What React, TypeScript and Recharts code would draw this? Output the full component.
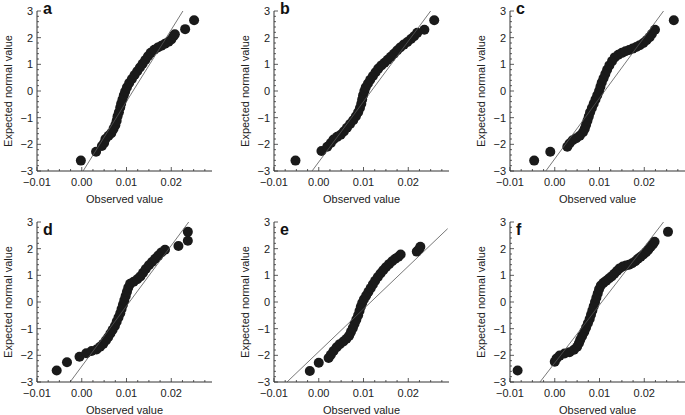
import React from 'react';
import { ScatterChart, Scatter, XAxis, YAxis } from 'recharts';

type Pt = { x: number; y: number };
const pts = (rows: number[][]): Pt[] => rows.map(([x, y]) => ({ x, y }));

const pointsA = pts([
  [-0.0002, -2.61], [0.0032, -2.28], [0.0045, -2.06], [0.005, -1.95], [0.0053, -1.8], [0.006, -1.68],
  [0.0066, -1.58], [0.0071, -1.42], [0.0075, -1.28], [0.0078, -1.12], [0.008, -0.95], [0.0083, -0.8],
  [0.0086, -0.62], [0.0088, -0.48], [0.0091, -0.32], [0.0094, -0.16], [0.0097, -0.02], [0.0101, 0.14],
  [0.0106, 0.3], [0.0112, 0.45], [0.0118, 0.6], [0.0124, 0.74], [0.013, 0.88], [0.0136, 1.02],
  [0.0142, 1.16], [0.0148, 1.3], [0.0154, 1.43], [0.0162, 1.55], [0.017, 1.63], [0.0178, 1.7],
  [0.0186, 1.77], [0.0194, 1.85], [0.02, 1.93], [0.0205, 2.05], [0.0208, 2.13], [0.0231, 2.32],
  [0.0251, 2.65],
]);
const pointsB = pts([
  [-0.0052, -2.61], [0.0006, -2.25], [0.0019, -2.09], [0.0027, -1.95], [0.0033, -1.82], [0.0041, -1.72],
  [0.0049, -1.64], [0.0056, -1.52], [0.0063, -1.38], [0.007, -1.24], [0.0077, -1.1], [0.0083, -0.95],
  [0.0088, -0.8], [0.0092, -0.64], [0.0095, -0.48], [0.0097, -0.32], [0.0099, -0.16], [0.0102, 0.0],
  [0.0105, 0.14], [0.011, 0.28], [0.0115, 0.42], [0.0121, 0.56], [0.0127, 0.7], [0.0133, 0.84],
  [0.014, 0.96], [0.0147, 1.06], [0.0154, 1.17], [0.0161, 1.28], [0.0168, 1.4], [0.0175, 1.52],
  [0.0182, 1.63], [0.019, 1.74], [0.0198, 1.84], [0.0206, 1.95], [0.0213, 2.05], [0.022, 2.18],
  [0.0236, 2.3], [0.0258, 2.65],
]);
const pointsC = pts([
  [-0.0046, -2.61], [-0.001, -2.28], [0.0028, -2.09], [0.0033, -1.97], [0.004, -1.85], [0.0048, -1.77],
  [0.0056, -1.68], [0.0063, -1.55], [0.0067, -1.42], [0.007, -1.27], [0.0073, -1.12], [0.0076, -0.96],
  [0.0079, -0.8], [0.0083, -0.64], [0.0087, -0.48], [0.0091, -0.32], [0.0095, -0.16], [0.0099, 0.0],
  [0.0102, 0.16], [0.0105, 0.32], [0.0109, 0.48], [0.0113, 0.64], [0.0117, 0.8], [0.0122, 0.96],
  [0.0128, 1.12], [0.0134, 1.26], [0.0142, 1.36], [0.015, 1.43], [0.0158, 1.49], [0.0166, 1.54],
  [0.0174, 1.59], [0.0182, 1.65], [0.019, 1.72], [0.0198, 1.8], [0.0205, 1.9], [0.0212, 2.02],
  [0.0217, 2.14], [0.0224, 2.3], [0.0266, 2.65],
]);
const pointsD = pts([
  [-0.0056, -2.57], [-0.0033, -2.26], [-0.0005, -2.05], [0.001, -1.92], [0.0022, -1.84], [0.0033, -1.78],
  [0.0041, -1.68], [0.0048, -1.57], [0.0054, -1.44], [0.0059, -1.32], [0.0064, -1.18], [0.0069, -1.04],
  [0.0074, -0.9], [0.0078, -0.74], [0.0082, -0.58], [0.0086, -0.42], [0.0089, -0.26], [0.0092, -0.1],
  [0.0095, 0.06], [0.0098, 0.22], [0.0101, 0.38], [0.0104, 0.54], [0.0108, 0.68], [0.0116, 0.76],
  [0.0124, 0.85], [0.0131, 0.96], [0.0137, 1.1], [0.0143, 1.24], [0.015, 1.38], [0.0157, 1.5],
  [0.0164, 1.62], [0.0171, 1.74], [0.0178, 1.86], [0.0186, 1.96], [0.0216, 2.1], [0.0237, 2.3],
  [0.0237, 2.63],
]);
const pointsE = pts([
  [-0.002, -2.59], [0.0, -2.28], [0.0022, -2.1], [0.0027, -1.98], [0.0033, -1.84], [0.004, -1.7],
  [0.0047, -1.58], [0.0055, -1.48], [0.0062, -1.38], [0.0068, -1.26], [0.0072, -1.12], [0.0076, -0.98],
  [0.008, -0.82], [0.0084, -0.66], [0.0088, -0.5], [0.0091, -0.34], [0.0094, -0.18], [0.0097, -0.04],
  [0.0101, 0.1], [0.0106, 0.24], [0.0111, 0.38], [0.0116, 0.52], [0.0121, 0.66], [0.0126, 0.8],
  [0.0132, 0.94], [0.0138, 1.07], [0.0144, 1.19], [0.015, 1.3], [0.0157, 1.42], [0.0164, 1.53],
  [0.0171, 1.62], [0.0178, 1.7], [0.0183, 1.78], [0.0219, 1.89], [0.0224, 1.98], [0.0227, 2.07],
]);
const pointsF = pts([
  [-0.0083, -2.57], [0.0, -2.24], [0.0004, -2.12], [0.0011, -2.01], [0.0022, -1.93], [0.0033, -1.88],
  [0.0043, -1.79], [0.005, -1.68], [0.0054, -1.55], [0.0057, -1.42], [0.0061, -1.28], [0.0066, -1.12],
  [0.007, -0.96], [0.0074, -0.8], [0.0078, -0.64], [0.0081, -0.48], [0.0084, -0.32], [0.0087, -0.16],
  [0.009, 0.0], [0.0093, 0.16], [0.0096, 0.32], [0.0099, 0.48], [0.0103, 0.62], [0.0109, 0.72],
  [0.0115, 0.8], [0.0121, 0.88], [0.0127, 0.96], [0.0133, 1.06], [0.0139, 1.16], [0.0145, 1.26],
  [0.0152, 1.33], [0.0159, 1.37], [0.0166, 1.4], [0.0173, 1.45], [0.018, 1.53], [0.0186, 1.62],
  [0.0192, 1.7], [0.0198, 1.78], [0.0204, 1.87], [0.0209, 1.96], [0.0214, 2.06], [0.0219, 2.16],
  [0.0223, 2.26], [0.0253, 2.63],
]);

// reference lines (end points)
const lineA = pts([[0.0003, -3], [0.0226, 3]]);
const lineB = pts([[-0.0015, -3], [0.025, 3]]);
const lineC = pts([[-0.002, -3], [0.0243, 3]]);
const lineD = pts([[-0.0026, -3], [0.0239, 3]]);
const lineE = pts([[-0.0071, -3], [0.0288, 2.75]]);
const lineF = pts([[-0.0033, -3], [0.0243, 3]]);

const majorX = [-0.01, 0, 0.01, 0.02];
const minorX = [-0.0075, -0.005, -0.0025, 0.0025, 0.005, 0.0075, 0.0125, 0.015, 0.0175, 0.0225, 0.025, 0.0275];
const majorY = [-3, -2, -1, 0, 1, 2, 3];
const minorY = [
  -2.8, -2.6, -2.4, -2.2, -1.8, -1.6, -1.4, -1.2, -0.8, -0.6, -0.4, -0.2,
  0.2, 0.4, 0.6, 0.8, 1.2, 1.4, 1.6, 1.8, 2.2, 2.4, 2.6, 2.8,
];

const X_DOMAIN: [number, number] = [-0.01, 0.0291];
const FONT = '"Liberation Sans", Arial, Helvetica, sans-serif';
const INK = '#1a1a1a';
const AXIS = '#333';
const PLOT_W = 175;
const PLOT_H = 160;

const xTicks = [...majorX, ...minorX].sort((a, b) => a - b);
const yTicks = [...majorY, ...minorY].sort((a, b) => a - b);
const isIn = (list: number[], v: number) => list.some((m) => Math.abs(m - v) < 1e-9);
const minus = (s: string) => s.replace('-', '\u2212');

function XTick(props: any) {
  const { x, y, payload } = props;
  const major = isIn(majorX, payload.value);
  return (
    <g>
      <line x1={x} x2={x} y1={y} y2={y - (major ? 4 : 2)} stroke={AXIS} strokeWidth={0.8} />
      {major && (
        <text x={x} y={y + 15} textAnchor="middle" fontSize={11} fill="#222" fontFamily={FONT}>
          {minus(payload.value.toFixed(2))}
        </text>
      )}
    </g>
  );
}

function YTick(props: any) {
  const { x, y, payload } = props;
  const major = isIn(majorY, payload.value);
  return (
    <g>
      <line x1={x} x2={x + (major ? 4 : 2)} y1={y} y2={y} stroke={AXIS} strokeWidth={0.8} />
      {major && (
        <text x={x - 4} y={y + 4} textAnchor="end" fontSize={11} fill="#222" fontFamily={FONT}>
          {minus(String(payload.value))}
        </text>
      )}
    </g>
  );
}

const Dot = (props: any) => <circle cx={props.cx} cy={props.cy} r={5} fill={INK} />;
const NoDot = () => <g />;

const panels = [
  { letter: 'a', points: pointsA, line: lineA, left: 0, top: 0, letterY: 14 },
  { letter: 'b', points: pointsB, line: lineB, left: 237, top: 0, letterY: 14 },
  { letter: 'c', points: pointsC, line: lineC, left: 473, top: 0, letterY: 14 },
  { letter: 'd', points: pointsD, line: lineD, left: 0, top: 211, letterY: 24 },
  { letter: 'e', points: pointsE, line: lineE, left: 237, top: 211, letterY: 24 },
  { letter: 'f', points: pointsF, line: lineF, left: 473, top: 211, letterY: 24 },
];

function Panel({ p }: { p: (typeof panels)[number] }) {
  return (
    <div style={{ position: 'absolute', left: p.left, top: p.top }}>
      <ScatterChart
        width={37 + PLOT_W + 8}
        height={207}
        margin={{ top: 11, right: 8, bottom: 4, left: 7 }}
      >
        <XAxis
          type="number"
          dataKey="x"
          domain={X_DOMAIN}
          ticks={xTicks}
          interval={0}
          tick={<XTick />}
          tickLine={false}
          tickSize={0}
          tickMargin={0}
          height={207 - 11 - 4 - PLOT_H}
          axisLine={{ stroke: AXIS, strokeWidth: 1 }}
          label={{ value: 'Observed value', position: 'insideBottom', offset: 0, fontSize: 11, fill: '#222', fontFamily: FONT }}
        />
        <YAxis
          type="number"
          dataKey="y"
          domain={[-3, 3]}
          ticks={yTicks}
          interval={0}
          tick={<YTick />}
          tickLine={false}
          tickSize={0}
          tickMargin={0}
          width={30}
          axisLine={{ stroke: AXIS, strokeWidth: 1 }}
          label={{
            value: 'Expected normal value',
            angle: -90,
            position: 'insideLeft',
            offset: 1,
            fontSize: 11,
            fill: '#222',
            fontFamily: FONT,
            style: { textAnchor: 'middle' },
          }}
        />
        <Scatter data={p.points} shape={Dot} isAnimationActive={false} />
        <Scatter
          data={p.line}
          shape={NoDot}
          line={{ stroke: '#555', strokeWidth: 0.8 }}
          isAnimationActive={false}
        />
        <text x={43} y={p.letterY} fontSize={16} fontWeight="bold" fill="#111" fontFamily={FONT}>
          {p.letter}
        </text>
      </ScatterChart>
    </div>
  );
}

export default function App() {
  return (
    <div
      style={{
        position: 'absolute',
        left: 0,
        top: 0,
        width: 685,
        height: 415,
        background: '#fff',
        overflow: 'hidden',
      }}
    >
      {panels.map((p) => (
        <Panel key={p.letter} p={p} />
      ))}
    </div>
  );
}
